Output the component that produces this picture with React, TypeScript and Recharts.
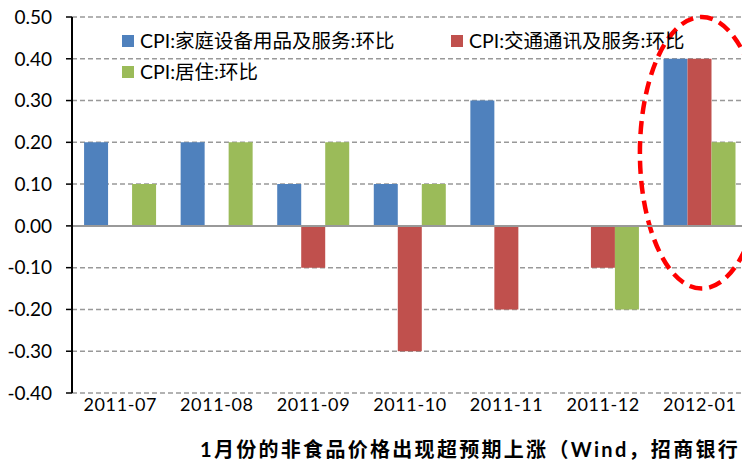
import React from 'react';
import { BarChart, Bar, XAxis, YAxis, CartesianGrid, ReferenceLine, ReferenceArea } from 'recharts';

const months = ['2011-07', '2011-08', '2011-09', '2011-10', '2011-11', '2011-12', '2012-01'];
const household = [0.2, 0.2, 0.1, 0.1, 0.3, 0, 0.4];
const transport = [0, 0, -0.1, -0.3, -0.2, -0.1, 0.4];
const housing = [0.1, 0.2, 0.2, 0.1, 0, -0.2, 0.2];
const yTicks = [-0.4, -0.3, -0.2, -0.1, 0, 0.1, 0.2, 0.3, 0.4, 0.5];

const SERIES = [
  { key: 'household', name: 'CPI:家庭设备用品及服务:环比', color: '#4F81BD' },
  { key: 'transport', name: 'CPI:交通通讯及服务:环比', color: '#C0504D' },
  { key: 'housing', name: 'CPI:居住:环比', color: '#9BBB59' },
];

const data = months.map((m, i) => ({
  month: m,
  household: household[i],
  transport: transport[i],
  housing: housing[i],
}));

const FONT = "Lato, 'Noto Sans CJK SC', sans-serif";

// legend slots, 2 rows like the excel original
const legendPos = [
  { left: 122, top: 29 },
  { left: 451, top: 29 },
  { left: 122, top: 60 },
];

const Ellipse = (props: any) => {
  const { x, y, width, height } = props;
  const cx = x + width / 2 + 2;
  const cy = y + height / 2;
  return (
    <ellipse
      cx={cx}
      cy={cy}
      rx={width * 0.64}
      ry={height / 2}
      fill="none"
      stroke="#FF0000"
      strokeWidth={4.5}
      strokeDasharray="13 7"
    />
  );
};

export default function App() {
  return (
    <div
      style={{
        position: 'absolute',
        left: 0,
        top: 0,
        width: 742,
        height: 464,
        overflow: 'hidden',
        background: '#fff',
        fontFamily: FONT,
      }}
    >
      <BarChart
        width={750}
        height={464}
        data={data}
        margin={{ top: 17, right: 2, left: 0, bottom: 41 }}
        barGap={0}
        barCategoryGap="12.5%"
      >
        <CartesianGrid vertical={false} stroke="#999" strokeDasharray="5 3" strokeWidth={1.5} />
        <XAxis
          dataKey="month"
          axisLine={false}
          tickLine={false}
          tickSize={0}
          tickMargin={5}
          height={30}
          tick={{ fill: '#000', fontSize: 18, fontFamily: FONT, letterSpacing: 0.6 }}
        />
        <YAxis
          width={72}
          domain={[-0.4, 0.5]}
          ticks={yTicks}
          interval={0}
          tickFormatter={(v: number) => v.toFixed(2)}
          axisLine={{ stroke: '#000', strokeWidth: 2 }}
          tickLine={{ stroke: '#000', strokeWidth: 1.5 }}
          tickSize={6}
          tickMargin={14}
          tick={{ fill: '#000', fontSize: 19, fontFamily: FONT }}
        />
        {SERIES.map((s) => (
          <Bar key={s.key} dataKey={s.key} name={s.name} fill={s.color} isAnimationActive={false} />
        ))}
        <ReferenceLine y={0} stroke="#999" strokeWidth={2} />
        <ReferenceArea
          x1="2012-01"
          x2="2012-01"
          y1={-0.15}
          y2={0.5}
          ifOverflow="visible"
          shape={<Ellipse />}
        />
      </BarChart>

      {SERIES.map((s, i) => (
        <div
          key={s.key}
          style={{
            position: 'absolute',
            left: legendPos[i].left,
            top: legendPos[i].top,
            display: 'flex',
            alignItems: 'center',
            fontSize: 19.5,
            lineHeight: '24px',
            color: '#000',
            whiteSpace: 'nowrap',
          }}
        >
          <span style={{ width: 12, height: 12, background: s.color, marginRight: 6, display: 'inline-block' }} />
          {s.name}
        </div>
      ))}

      <div
        style={{
          position: 'absolute',
          left: 200,
          top: 436,
          fontSize: 20,
          fontWeight: 'bold',
          letterSpacing: 2.3,
          color: '#000',
          whiteSpace: 'nowrap',
          lineHeight: '26px',
        }}
      >
        1月份的非食品价格出现超预期上涨（Wind，招商银行
      </div>
    </div>
  );
}
